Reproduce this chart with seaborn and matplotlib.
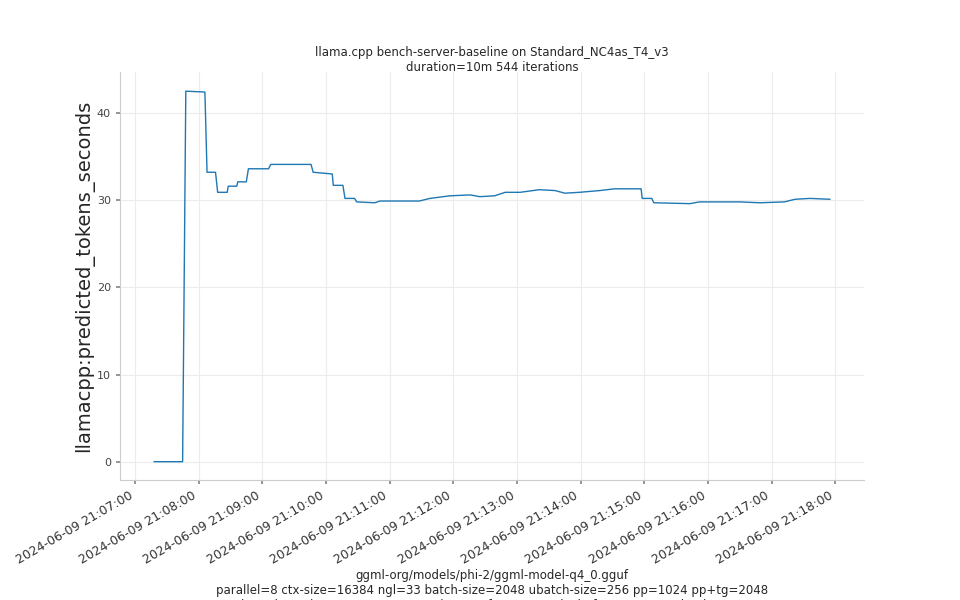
import pandas as pd
import matplotlib
matplotlib.use("Agg")
import matplotlib.pyplot as plt
import matplotlib.dates as mdates
import seaborn as sns

times = ["21:07:18", "21:07:45", "21:07:48", "21:08:06", "21:08:08", "21:08:16", "21:08:18",
         "21:08:27", "21:08:28", "21:08:36", "21:08:37", "21:08:45", "21:08:47", "21:09:06",
         "21:09:08", "21:09:46", "21:09:48", "21:10:06", "21:10:07", "21:10:16", "21:10:18",
         "21:10:27", "21:10:29", "21:10:46", "21:10:51", "21:11:28", "21:11:38", "21:11:57",
         "21:12:16", "21:12:25", "21:12:39", "21:12:49", "21:13:03", "21:13:21", "21:13:36",
         "21:13:45", "21:13:59", "21:14:18", "21:14:32", "21:14:57", "21:14:58", "21:15:07",
         "21:15:09", "21:15:43", "21:15:52", "21:16:30", "21:16:49", "21:17:12", "21:17:22",
         "21:17:36", "21:17:55"]
values = [0, 0, 42.5, 42.4, 33.2, 33.2, 30.9,
          30.9, 31.6, 31.6, 32.1, 32.1, 33.6, 33.6,
          34.1, 34.1, 33.2, 33.0, 31.7, 31.7, 30.2,
          30.2, 29.8, 29.7, 29.9, 29.9, 30.2, 30.5,
          30.6, 30.4, 30.5, 30.9, 30.9, 31.2, 31.1,
          30.8, 30.9, 31.1, 31.3, 31.3, 30.2, 30.2,
          29.7, 29.6, 29.8, 29.8, 29.7, 29.8, 30.1,
          30.2, 30.1]

df = pd.DataFrame({"time": pd.to_datetime(["2024-06-09 " + t for t in times]),
                   "value": values})

sns.set_theme(style="whitegrid")
plt.rcParams["font.family"] = ["DejaVu Sans"]

fig, ax = plt.subplots(figsize=(9.6, 6), dpi=100)
fig.subplots_adjust(left=0.125, right=0.9, top=0.88, bottom=0.2)
sns.lineplot(data=df, x="time", y="value", ax=ax, color="#1f77b4", linewidth=1.0)

ax.set_xlim(pd.Timestamp("2024-06-09 21:06:46"), pd.Timestamp("2024-06-09 21:18:27"))
ax.set_ylim(-2.1, 44.7)
ax.set_yticks([0, 10, 20, 30, 40])
ax.xaxis.set_major_locator(mdates.MinuteLocator())
ax.xaxis.set_major_formatter(mdates.DateFormatter("%Y-%m-%d %H:%M:%S"))
plt.setp(ax.get_xticklabels(), rotation=30, ha="right", fontsize=9, color="#333333")
ax.tick_params(axis="y", labelsize=8, labelcolor="#444444")
ax.tick_params(axis="both", length=3, color="#888888", bottom=True, left=True)
ax.grid(color="#ececec", linewidth=0.8)
sns.despine(ax=ax)
for s in ["left", "bottom"]:
    ax.spines[s].set_color("#cccccc")
    ax.spines[s].set_linewidth(0.8)

ax.set_ylabel("llamacpp:predicted_tokens_seconds", fontsize=14, labelpad=2)
ax.set_xlabel("ggml-org/models/phi-2/ggml-model-q4_0.gguf\n"
              "parallel=8 ctx-size=16384 ngl=33 batch-size=2048 ubatch-size=256 pp=1024 pp+tg=2048\n"
              "branch=cuda-mmq-q8_1-2 commit=05a5fa08ce76c5d9cb6f1a9a08a6ac3d88d86029",
              fontsize=8.5, labelpad=2)
ax.set_title("llama.cpp bench-server-baseline on Standard_NC4as_T4_v3\nduration=10m 544 iterations",
             fontsize=8.5, pad=1)

fig.savefig("out.png", dpi=100)
